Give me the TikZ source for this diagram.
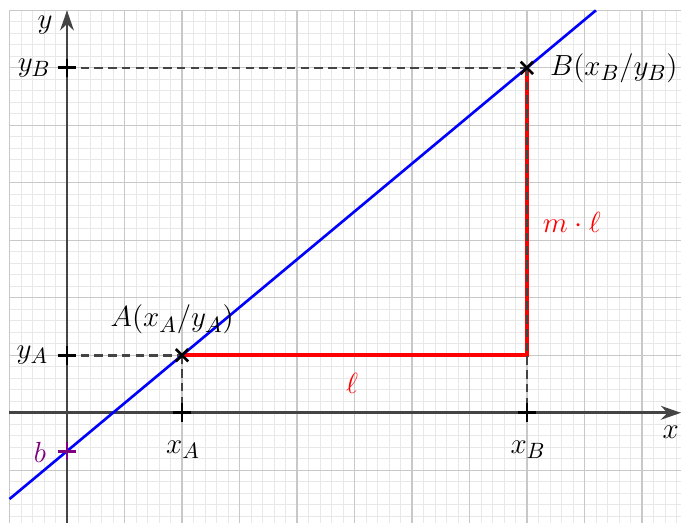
\documentclass[tikz,border=0pt]{standalone}
\usepackage{amsmath}
\usepackage{amssymb}
\usepackage{xcolor}
\usepackage{tikz}
\usetikzlibrary{arrows.meta,shapes.misc,positioning}
\definecolor{axiscolor}{HTML}{444444}
\definecolor{majorgrid}{HTML}{C8C8C8}
\definecolor{minorgrid}{HTML}{E8E8E8}
\definecolor{interceptcolor}{HTML}{800080}

\begin{document}
\begin{tikzpicture}[
    font=\fontsize{15.4}{18}\selectfont,
    axisline/.style={draw=axiscolor, line width=1.35pt,
                     -{Stealth[length=3.5mm, width=2.4mm]}},
    helperline/.style={draw=axiscolor, line width=1.3pt,
                       dash pattern=on 4.2pt off 2.6pt},
    tickmark/.style={cross out, draw=black, rotate=45, line width=1.4pt,
                     minimum size=0.18cm, inner sep=0pt},
    pointmark/.style={cross out, draw=black, line width=1.3pt,
                      minimum size=0.17cm, inner sep=0pt},
    slopeline/.style={draw=red, line width=2pt}
]
\clip (-1.165,-1.91) rectangle (10.68,7.18);

% grid
\draw[minorgrid, line width=0.4pt, step=0.2] (-1,-2) grid (11,7);
\draw[majorgrid, line width=0.6pt, step=1] (-1,-2) grid (11,7);

% points
\coordinate (O) at (0,0);
\coordinate (A) at (2,1);
\coordinate (B) at (8,6);
\coordinate (C) at (8,1);
\coordinate (xA) at (2,0);
\coordinate (xB) at (8,0);
\coordinate (yA) at (0,1);
\coordinate (yB) at (0,6);
\coordinate (b) at (0,-2/3);
\coordinate (xstart) at (-1,0);
\coordinate (xend) at (10.68,0);
\coordinate (ystart) at (0,-1.91);
\coordinate (yend) at (0,7);
\coordinate (lstart) at (-1,-1.5);
\coordinate (lend) at (9.2,7);

% axes
\draw[axisline] (xstart) -- (xend);
\draw[axisline] (ystart) -- (yend);
\node (xlab) at (10.5,-0.33) {$x$};
\node (ylab) at (-0.38,6.75) {$y$};

% slope triangle
\draw[slopeline] (A) -- (C) -- (B);

% helper lines
\draw[helperline] (yB) -- (B);
\draw[helperline] (B) -- (xB);
\draw[helperline] (yA) -- (A);
\draw[helperline] (A) -- (xA);

% line
\draw[blue, line width=1.3pt] (lstart) -- (lend);

% ticks
\node[tickmark] (tyA) at (yA) {};
\node[tickmark] (tyB) at (yB) {};
\node[tickmark] (txA) at (xA) {};
\node[tickmark] (txB) at (xB) {};
\node[tickmark, draw=interceptcolor] (tb) at (b) {};
\node[pointmark] (mA) at (A) {};
\node[pointmark] (mB) at (B) {};

% labels
\node (lyA) at (-0.6,1) {$y_A$};
\node (lyB) at (-0.57,6) {$y_B$};
\node (lxA) at (2.02,-0.64) {$x_A$};
\node (lxB) at (8.02,-0.64) {$x_B$};
\node[text=interceptcolor] (lb) at (-0.47,-0.68) {$b$};
\node (labA) at (1.83,1.62) {$A(x_A/y_A)$};
\node[right=0.28 of B] (labB) {$B(x_B/y_B)$};
\node[text=red] (lm) at (8.78,3.32) {$m\cdot\ell$};
\node[text=red] (ll) at (4.96,0.52) {$\ell$};
\end{tikzpicture}
\end{document}
